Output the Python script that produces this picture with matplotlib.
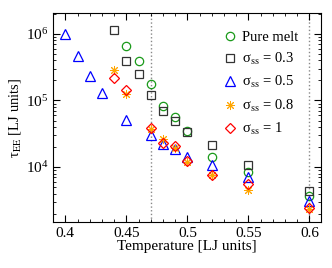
import matplotlib
matplotlib.use("Agg")
import matplotlib.pyplot as plt
from matplotlib.ticker import MultipleLocator, LogLocator, NullFormatter

plt.rcParams['font.family'] = ['Liberation Serif', 'DejaVu Serif']
plt.rcParams['mathtext.fontset'] = 'stix'
plt.rcParams['font.size'] = 9.5

# Data
T_pure = [0.45, 0.46, 0.47, 0.48, 0.49, 0.50, 0.52, 0.55, 0.60]
tau_pure = [6.6e5, 3.85e5, 1.78e5, 8.2e4, 5.6e4, 3.45e4, 1.41e4, 8.3e3, 3.7e3]

T_03 = [0.44, 0.45, 0.46, 0.47, 0.48, 0.49, 0.50, 0.52, 0.55, 0.60]
tau_03 = [1.15e6, 3.95e5, 2.52e5, 1.22e5, 6.9e4, 4.84e4, 3.4e4, 2.12e4, 1.06e4, 4.3e3]

T_05 = [0.40, 0.41, 0.42, 0.43, 0.45, 0.47, 0.48, 0.49, 0.50, 0.52, 0.55, 0.60]
tau_05 = [1.0e6, 4.69e5, 2.37e5, 1.31e5, 5.13e4, 2.98e4, 2.2e4, 1.87e4, 1.41e4, 1.06e4, 7.2e3, 3.12e3]

T_08 = [0.44, 0.45, 0.47, 0.48, 0.49, 0.50, 0.52, 0.55, 0.60]
tau_08 = [2.85e5, 1.25e5, 3.7e4, 2.6e4, 1.95e4, 1.21e4, 7.6e3, 4.56e3, 2.37e3]

T_1 = [0.44, 0.45, 0.47, 0.48, 0.49, 0.50, 0.52, 0.55, 0.60]
tau_1 = [2.14e5, 1.46e5, 3.8e4, 2.3e4, 2.04e4, 1.23e4, 7.7e3, 5.56e3, 2.45e3]

vlines = [0.47, 0.60]

labels = ["Pure melt", "σ$_{\\rm ss}$ = 0.3", "σ$_{\\rm ss}$ = 0.5",
          "σ$_{\\rm ss}$ = 0.8", "σ$_{\\rm ss}$ = 1"]

fig = plt.figure(figsize=(3.32, 2.68), dpi=100)
ax = fig.add_axes([0.16, 0.172, 0.807, 0.779])

for v in vlines:
    ax.axvline(v, color='#888888', linestyle=':', linewidth=1.0, zorder=0)

ms = 6
ax.plot(T_pure, tau_pure, linestyle='none', marker='o', mfc='none', mec='#1a9a1a', mew=0.9, ms=ms, label=labels[0])
ax.plot(T_03, tau_03, linestyle='none', marker='s', mfc='none', mec='#333333', mew=0.9, ms=ms-0.5, label=labels[1])
ax.plot(T_05, tau_05, linestyle='none', marker='^', mfc='none', mec='#0000ff', mew=0.9, ms=ms+0.5, label=labels[2])
ax.plot(T_08, tau_08, linestyle='none', marker=(8, 2, 0), color='#ffa500', mew=0.7, ms=ms+0.5, label=labels[3])
ax.plot(T_1, tau_1, linestyle='none', marker='D', mfc='none', mec='#ff0000', mew=0.9, ms=ms-1, label=labels[4])

ax.set_yscale('log')
ax.set_xlim(0.39, 0.6095)
ax.set_ylim(1.5e3, 2.05e6)
ax.xaxis.set_minor_locator(MultipleLocator(0.01))
ax.set_xticks([0.4, 0.45, 0.5, 0.55, 0.6])
ax.set_xticklabels(['0.4', '0.45', '0.5', '0.55', '0.6'])
ax.yaxis.set_minor_locator(LogLocator(base=10, subs=range(2, 10), numticks=20))
ax.yaxis.set_minor_formatter(NullFormatter())
ax.tick_params(which='both', direction='in', top=True, right=True)
ax.tick_params(which='major', length=5, width=0.8, labelsize=11)
ax.tick_params(which='minor', length=2.5, width=0.6)

ax.set_xlabel('Temperature [LJ units]', fontsize=11, labelpad=0)
ax.set_ylabel('τ$_{\\rm EE}$ [LJ units]', fontsize=10.5, labelpad=2)

ax.legend(loc='upper right', frameon=False, fontsize=10.5, handletextpad=0.3,
          handlelength=1.0, labelspacing=0.5, borderaxespad=0.0,
          bbox_to_anchor=(0.935, 0.945))

fig.savefig('out.png', dpi=100)
